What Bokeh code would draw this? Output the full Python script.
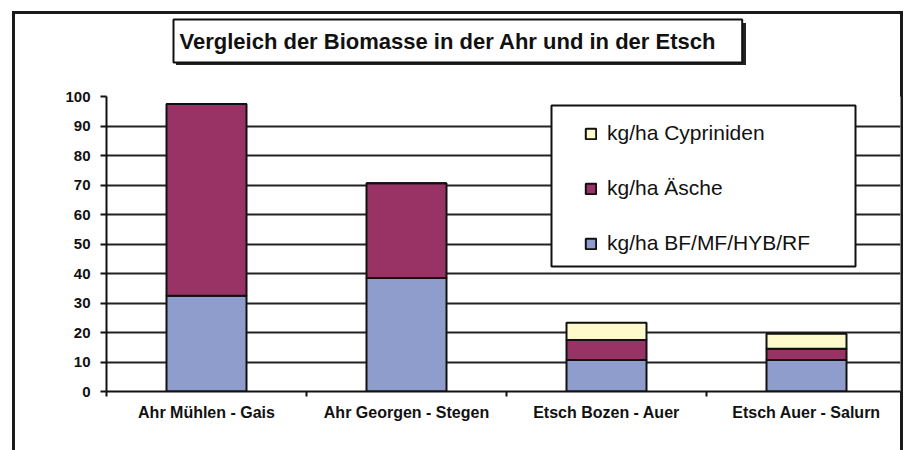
from bokeh.plotting import figure
from bokeh.models import (Range1d, FixedTicker, LinearAxis, BoxAnnotation, Grid, Title,
                          Legend, LegendItem, ColumnDataSource)
from bokeh.embed import file_html
from bokeh.resources import INLINE

# ---- data ----
categories = ["Ahr Mühlen - Gais", "Ahr Georgen - Stegen", "Etsch Bozen - Auer", "Etsch Auer - Salurn"]
bf_mf = [32.5, 38.5, 10.7, 10.7]
aesche = [65.0, 32.1, 6.8, 3.8]
cypriniden = [0.0, 0.0, 5.8, 5.1]
series = ["bf", "aesche", "cyp"]
series_labels = ["kg/ha BF/MF/HYB/RF", "kg/ha Äsche", "kg/ha Cypriniden"]
colors = ["#8F9DCC", "#993366", "#FFFACC"]
y_ticks = [0, 10, 20, 30, 40, 50, 60, 70, 80, 90, 100]
title_text = "Vergleich der Biomasse in der Ahr und in der Etsch"

FONT = "Liberation Sans"
x_pos = [i + 0.5 for i in range(len(categories))]
source = ColumnDataSource(dict(x=x_pos, bf=bf_mf, aesche=aesche, cyp=cypriniden))

p = figure(width=891, height=439, output_backend="svg", toolbar_location=None,
           x_range=Range1d(0, 3.97), y_range=Range1d(0, 100),
           min_border_left=94, min_border_right=3, min_border_top=85, min_border_bottom=59,
           x_axis_type=None, y_axis_type=None)
p.margin = (11, 0, 0, 12)
# outer chart frame (left, top, right edges) and the title box's drop shadow
p.styles = {
    "box-shadow": "inset 3px 3px 0 0 #1a1a1a, inset -3px 0 0 0 #1a1a1a",
    "background": "linear-gradient(#222222, #222222) 164px 12px / 570px 42px no-repeat",
}
p.outline_line_color = None
p.background_fill_color = "white"
p.border_fill_alpha = 0

# spacer between the plot area and the title box
spacer = Title(text=" ", text_font_size="1px", standoff=31, border_line_color=None,
               background_fill_color=None)
p.add_layout(spacer, "above")

# title box
main_title = Title(text=title_text, align="left", vertical_align="bottom", offset=67, standoff=0,
                   text_font=FONT, text_font_style="bold", text_font_size="22px",
                   text_color="#111111", border_line_color="#111111", border_line_width=2,
                   background_fill_color="white",
                   padding=dict(left=6, right=26, top=9, bottom=9))
p.add_layout(main_title, "above")

renderers = p.vbar_stack(series, x="x", width=0.4, source=source, color=colors,
                         line_color="#111111", line_width=2)

# y axis
yaxis = LinearAxis(ticker=FixedTicker(ticks=y_ticks))
yaxis.axis_line_color = "#111111"
yaxis.axis_line_width = 2
yaxis.major_tick_line_color = "#111111"
yaxis.major_tick_line_width = 2
yaxis.major_tick_out = 6
yaxis.major_tick_in = 0
yaxis.minor_tick_line_color = None
yaxis.major_label_standoff = 10
yaxis.major_label_text_font = FONT
yaxis.major_label_text_font_style = "bold"
yaxis.major_label_text_font_size = "15px"
yaxis.major_label_text_color = "#111111"
p.add_layout(yaxis, "left")

# x axis
xaxis = LinearAxis(ticker=FixedTicker(ticks=x_pos, minor_ticks=list(range(len(categories) + 1))))
xaxis.major_label_overrides = {x: c for x, c in zip(x_pos, categories)}
xaxis.axis_line_color = "#111111"
xaxis.axis_line_width = 2
xaxis.major_tick_line_color = None
xaxis.major_tick_out = 0
xaxis.major_tick_in = 0
xaxis.minor_tick_line_color = "#111111"
xaxis.minor_tick_line_width = 2
xaxis.minor_tick_out = 5
xaxis.minor_tick_in = 0
xaxis.major_label_standoff = 7
xaxis.major_label_text_font = FONT
xaxis.major_label_text_font_style = "bold"
xaxis.major_label_text_font_size = "16px"
xaxis.major_label_text_color = "#111111"
p.add_layout(xaxis, "below")

# horizontal grid
p.add_layout(Grid(dimension=1, ticker=FixedTicker(ticks=y_ticks),
                  grid_line_color="#222222", grid_line_width=2))

# legend box
p.add_layout(BoxAnnotation(left=539, right=843, top=94, bottom=255,
                           left_units="canvas", right_units="canvas",
                           top_units="canvas", bottom_units="canvas",
                           fill_color="white", fill_alpha=1,
                           line_color="#111111", line_alpha=1, line_width=2))

items = [LegendItem(label=lab, renderers=[r]) for lab, r in zip(series_labels, renderers)]
items = items[::-1]
legend = Legend(items=items, location=(478, 136), orientation="vertical",
                glyph_width=13, glyph_height=13, label_height=20, spacing=31,
                label_standoff=10, padding=0, margin=0,
                border_line_color=None, background_fill_alpha=0,
                label_text_font=FONT, label_text_font_size="21px", label_text_color="#111111")
p.add_layout(legend, "center")

open("out.html", "w").write(file_html(p, INLINE))
